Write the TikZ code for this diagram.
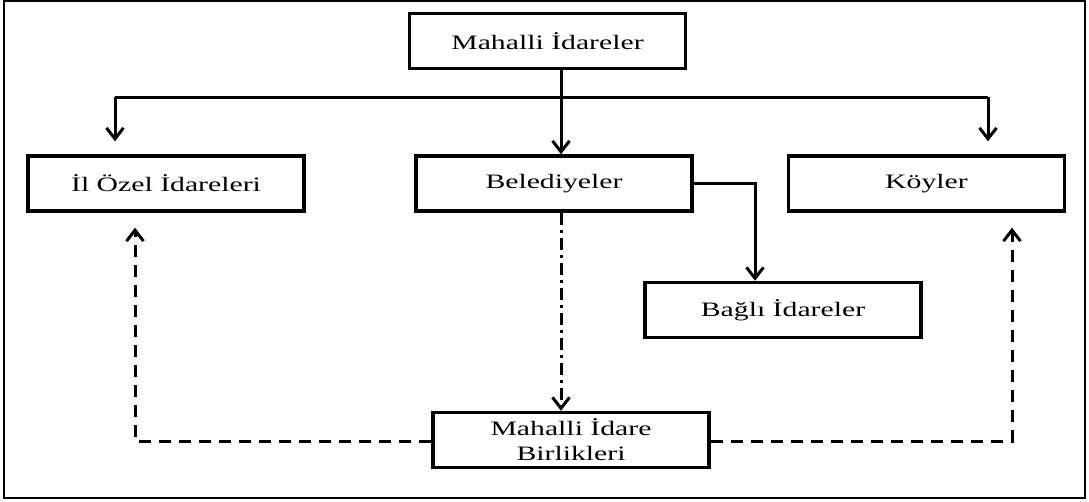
\documentclass[tikz,border=0pt]{standalone}
\usepackage{fontspec}
\setmainfont{Liberation Serif}[FakeStretch=1.45]
\usetikzlibrary{arrows.meta}
\begin{document}
\begin{tikzpicture}[x=1pt,y=-1pt,
  unit/.style={draw=black, line width=3.4pt, minimum width=276pt, minimum height=55pt, align=center, inner sep=0pt, font=\fontsize{20.5}{25}\selectfont},
  arr/.style={line width=3pt, -{Straight Barb[length=11pt,width=17pt]}},
  dasharr/.style={arr, dash pattern=on 12pt off 8pt},
  dotarr/.style={arr, dash pattern=on 12pt off 5pt on 3pt off 5pt}]
\useasboundingbox (0,0) rectangle (1089,501);
\draw [line width=2.6pt] (4,1) rectangle (1085,498);
\node [unit] (idare) at (547.5,41) {Mahalli İdareler};
\node [unit] (ilozel) at (166,183.5) {İl Özel İdareleri};
\node [unit] (beled) at (554,183.5) {Belediyeler};
\node [unit] (koy) at (926.5,183.5) {Köyler};
\node [unit] (bagli) at (783,310) {Bağlı İdareler};
\node [unit] (birlik) at (571,440) {Mahalli İdare\\Birlikleri};
\coordinate (hub) at (561,97);
\coordinate (hubl) at (115,97);
\coordinate (hubr) at (988,97);
\coordinate (bk) at (755,183.5);
\coordinate (bl) at (135,441);
\coordinate (br) at (1012,441);
% top level
\draw [line width=3pt] (idare.south -| hub) -- (hub);
\draw [line width=3pt] (hubl) -- (hubr);
\draw [arr] (hub) -- (hub |- beled.north);
\draw [arr, shorten >=13pt] (hubl) -- (hubl |- ilozel.north);
\draw [arr, shorten >=13pt] (hubr) -- (hubr |- koy.north);
\draw [arr] (beled.east) -- (bk) -- (bk |- bagli.north);
% unions
\draw [dotarr] (beled.south -| hub) -- (hub |- birlik.north);
\draw [dasharr, shorten >=15pt] (birlik.west |- bl) -- (bl) -- (bl |- ilozel.south);
\draw [dasharr, shorten >=15pt] (birlik.east |- br) -- (br) -- (br |- koy.south);
\end{tikzpicture}
\end{document}
